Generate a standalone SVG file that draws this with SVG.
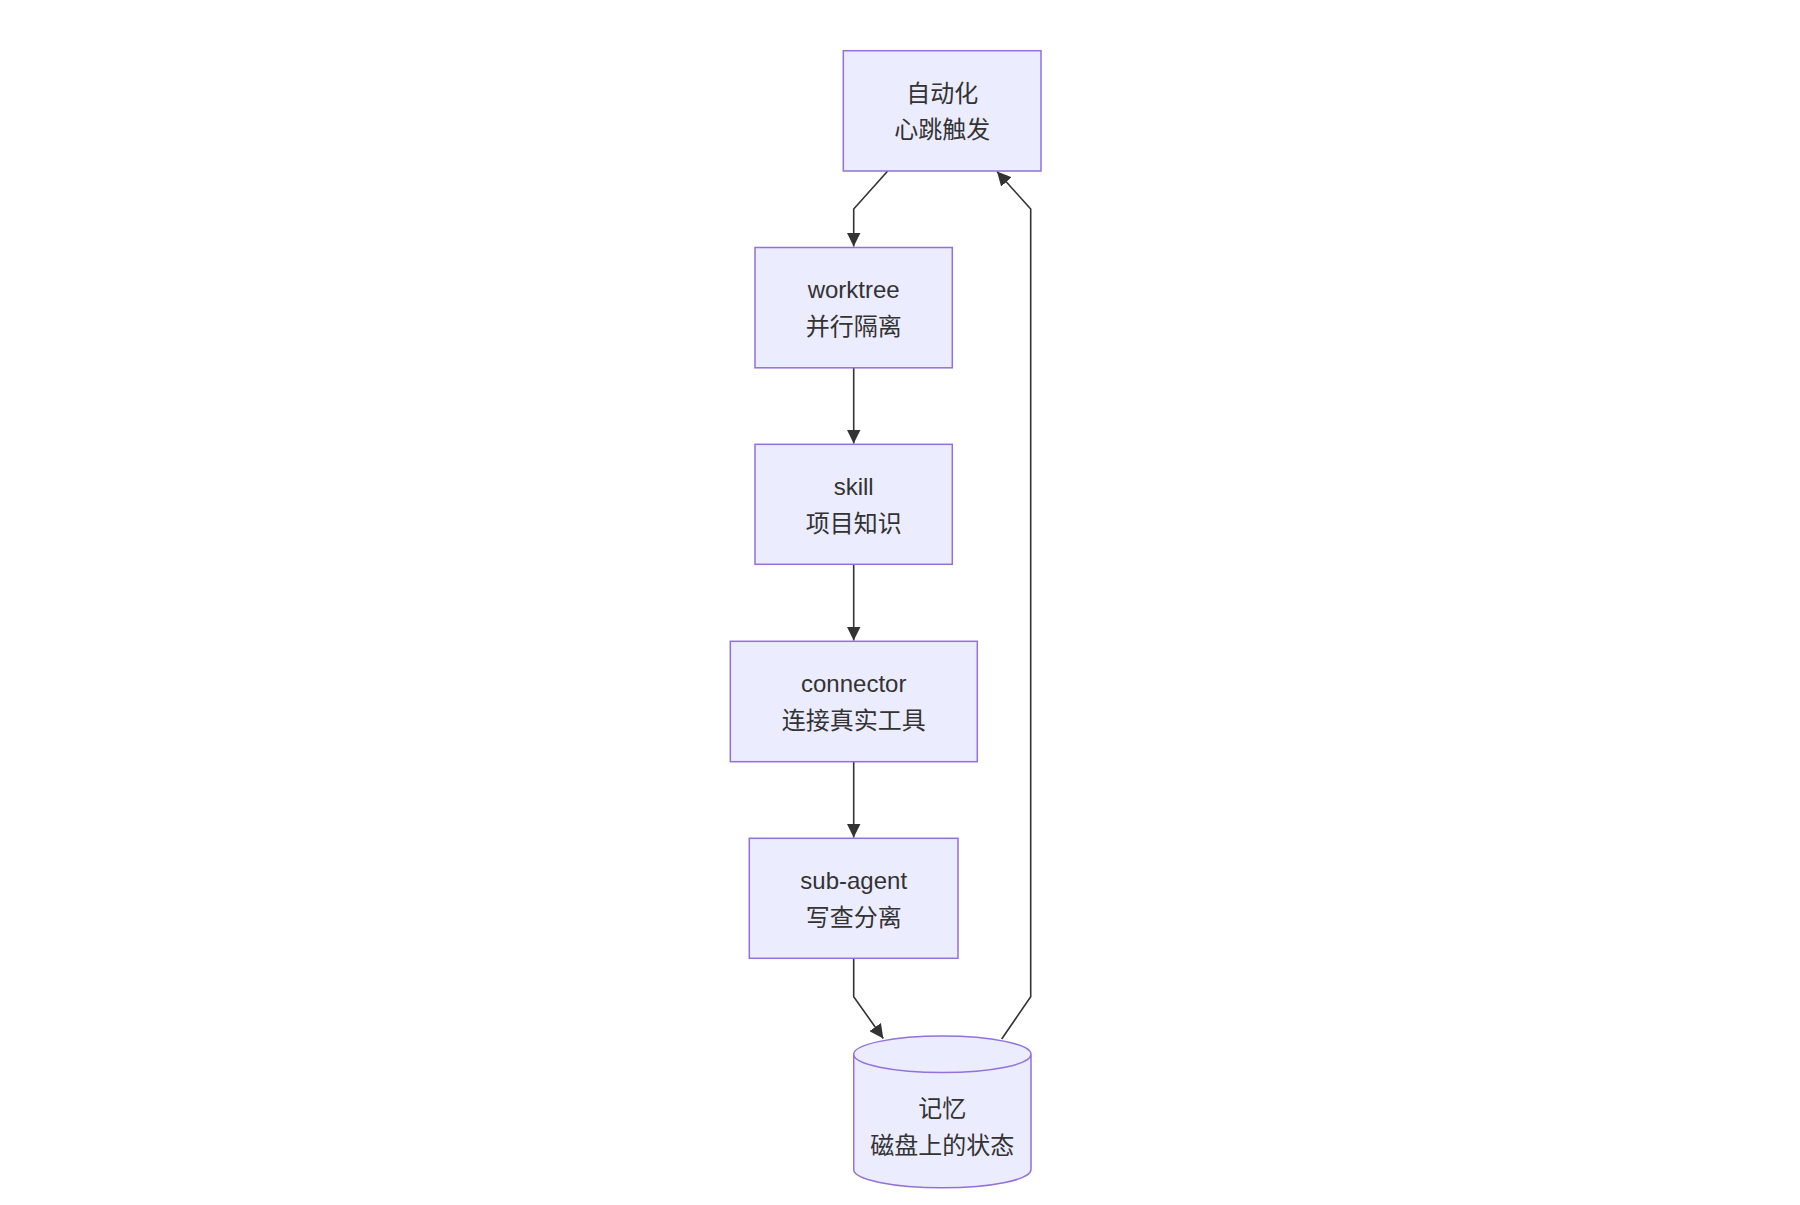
<svg xmlns="http://www.w3.org/2000/svg" width="1800" height="1205" viewBox="0 0 1800 1205">
<style>
.node rect, .node path { fill: #ECECFF; stroke: #9370DB; stroke-width: 1.5; }
.edge { fill: none; stroke: #333333; stroke-width: 1.6; }
text { font-family: "Liberation Sans", "Noto Sans CJK SC", sans-serif; font-size: 24px; fill: #333333; text-anchor: middle; dominant-baseline: central; }
</style>
<defs>
<marker id="arrow" markerUnits="userSpaceOnUse" markerWidth="14" markerHeight="14" viewBox="0 0 12 12" refX="12" refY="6" orient="auto">
<path d="M0,0 L12,6 L0,12 Z" fill="#333333"/>
</marker>
</defs>
<rect width="1800" height="1205" fill="#ffffff"/>
<g id="connectors">
<path class="edge" d="M887.7,171 L853.7,209 L853.7,246.5" marker-end="url(#arrow)"/>
<path class="edge" d="M853.7,368 L853.7,443.5" marker-end="url(#arrow)"/>
<path class="edge" d="M853.7,564.5 L853.7,640.5" marker-end="url(#arrow)"/>
<path class="edge" d="M853.7,762 L853.7,837.5" marker-end="url(#arrow)"/>
<path class="edge" d="M853.7,958.5 L853.7,996.7 L883.3,1038.5" marker-end="url(#arrow)"/>
<path class="edge" d="M1001.7,1039 L1030.7,996.7 L1030.7,209 L997,171.5" marker-end="url(#arrow)"/>
</g>
<g id="node-auto" class="node">
<rect x="843.3" y="50.7" width="197.7" height="120.3"/>
<text x="942.2" y="93">自动化</text>
<text x="942.2" y="129.5">心跳触发</text>
</g>
<g id="node-worktree" class="node">
<rect x="755" y="247.5" width="197.3" height="120.3"/>
<text x="853.7" y="289">worktree</text>
<text x="853.7" y="326">并行隔离</text>
</g>
<g id="node-skill" class="node">
<rect x="755" y="444.3" width="197.3" height="120"/>
<text x="853.7" y="486">skill</text>
<text x="853.7" y="523">项目知识</text>
</g>
<g id="node-connector" class="node">
<rect x="730.3" y="641.3" width="247" height="120.4"/>
<text x="853.7" y="683">connector</text>
<text x="853.7" y="720">连接真实工具</text>
</g>
<g id="node-subagent" class="node">
<rect x="749.3" y="838.3" width="208.7" height="120"/>
<text x="853.7" y="880">sub-agent</text>
<text x="853.7" y="917">写查分离</text>
</g>
<g id="node-memory" class="node">
<path d="M853.7,1054.3 a88.65,18.3 0 0 0 177.3,0 a88.65,18.3 0 0 0 -177.3,0 l0,115.2 a88.65,18.3 0 0 0 177.3,0 l0,-115.2"/>
<text x="942.3" y="1108">记忆</text>
<text x="942.3" y="1145">磁盘上的状态</text>
</g>
</svg>
